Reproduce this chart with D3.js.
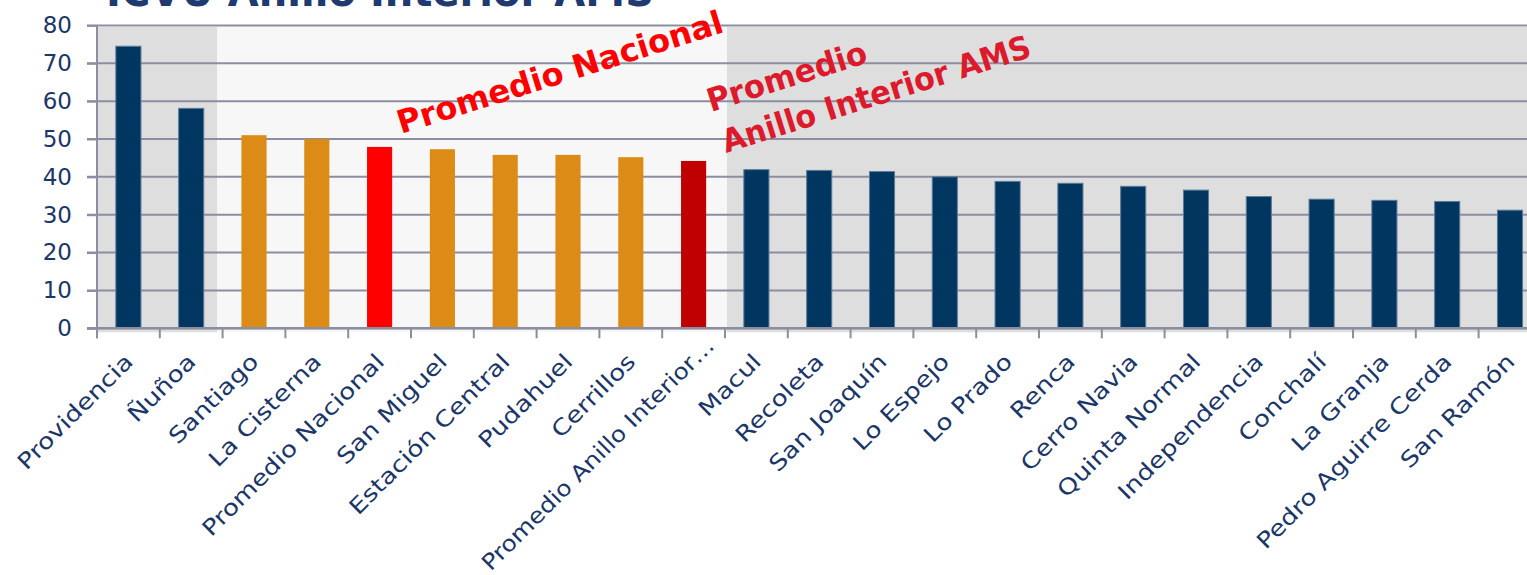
<!DOCTYPE html>
<html>
<head>
<meta charset="utf-8">
<script src="https://cdn.jsdelivr.net/npm/d3@7"></script>
<style>
  html, body { margin: 0; padding: 0; background: #ffffff; }
  svg { display: block; }
</style>
</head>
<body>
<svg id="chart" width="1527" height="575"></svg>
<script>
// ---------- data ----------
const categories = [
  "Providencia", "Ñuñoa", "Santiago", "La Cisterna", "Promedio Nacional",
  "San Miguel", "Estación Central", "Pudahuel", "Cerrillos", "Promedio Anillo Interior…",
  "Macul", "Recoleta", "San Joaquín", "Lo Espejo", "Lo Prado", "Renca",
  "Cerro Navia", "Quinta Normal", "Independencia", "Conchalí", "La Granja",
  "Pedro Aguirre Cerda", "San Ramón"
];
const values = [
  74.5, 58.1, 51.0, 50.0, 47.9, 47.3, 45.8, 45.8, 45.2, 44.2,
  41.9, 41.7, 41.4, 40.0, 38.8, 38.3, 37.5, 36.5, 34.8, 34.1, 33.8, 33.5, 31.2
];
const groups = [
  "high", "high", "mid", "mid", "nacional", "mid", "mid", "mid", "mid", "ams",
  "low", "low", "low", "low", "low", "low", "low", "low", "low", "low", "low", "low", "low"
];
const yTicks = [0, 10, 20, 30, 40, 50, 60, 70, 80];
const bandStart = [0, 2, 10];
const bandEnd = [2, 10, 23];
const bandShade = ["dark", "light", "dark"];
const title = "ICVU Anillo Interior AMS";
const noteNacional = "Promedio Nacional";
const noteAms1 = "Promedio";
const noteAms2 = "Anillo Interior AMS";

// ---------- styles ----------
const barColor = { high: "#003660", low: "#003660", mid: "#dc8c16", nacional: "#ff0000", ams: "#c00000" };
const bandColor = { dark: "#dedede", light: "#f7f7f7" };
const textNavy = "#1b3668";
const gridColor = "#8b8ea0";
const font = "'DejaVu Sans', sans-serif";

const svg = d3.select("#chart");
const left = 97, step = 62.8;
const x = d3.scaleBand().domain(categories)
  .range([left, left + step * categories.length])
  .paddingInner(0.6).paddingOuter(0.3);
const y = d3.scaleLinear().domain([0, 80]).range([328.3, 25.4]);
const boundary = i => x.range()[0] + i * x.step();
const plotRight = x.range()[1];

// background bands
const bandAdj = [[0, -5.5], [-5.5, 2], [2, 0]];
svg.append("g").selectAll("rect").data(bandStart).join("rect")
  .attr("x", (d, i) => boundary(d) + bandAdj[i][0])
  .attr("width", (d, i) => boundary(bandEnd[i]) + bandAdj[i][1] - boundary(d) - bandAdj[i][0])
  .attr("y", y(80) + 1.5)
  .attr("height", y(0) + 4 - y(80) - 1.5)
  .attr("fill", (d, i) => bandColor[bandShade[i]]);

// gridlines
svg.append("g").selectAll("line").data(yTicks).join("line")
  .attr("x1", left - 10).attr("x2", plotRight)
  .attr("y1", d => y(d)).attr("y2", d => y(d))
  .attr("stroke", gridColor).attr("stroke-width", 2);

// y axis
const yAxis = svg.append("g").attr("transform", `translate(${left},0)`)
  .call(d3.axisLeft(y).tickValues(yTicks).tickSize(10).tickPadding(15));
yAxis.select(".domain").attr("stroke", gridColor).attr("stroke-width", 2)
  .attr("d", `M0,${y(80)}V${y(0) + 10}`);
yAxis.selectAll(".tick line").attr("stroke", gridColor).attr("stroke-width", 2);
yAxis.selectAll(".tick text").attr("fill", textNavy)
  .style("font-family", font).style("font-size", "23px");

// x axis ticks at category boundaries
svg.append("g").selectAll("line").data(d3.range(categories.length + 1)).join("line")
  .attr("x1", d => boundary(d)).attr("x2", d => boundary(d))
  .attr("y1", y(0)).attr("y2", y(0) + 10)
  .attr("stroke", gridColor).attr("stroke-width", 2);

// bars
svg.append("g").selectAll("rect").data(categories).join("rect")
  .attr("x", d => x(d))
  .attr("width", x.bandwidth())
  .attr("y", (d, i) => y(values[i]))
  .attr("height", (d, i) => y(0) - y(values[i]))
  .attr("fill", (d, i) => barColor[groups[i]])
  .attr("stroke", (d, i) => (groups[i] === "high" || groups[i] === "low") ? "#5d7c99" : "none")
  .attr("stroke-width", 1);

// x axis line on top of bars
svg.append("line")
  .attr("x1", left - 10).attr("x2", plotRight)
  .attr("y1", y(0)).attr("y2", y(0))
  .attr("stroke", gridColor).attr("stroke-width", 2.5);

// category labels (truncated label sits a little higher, as in the original)
const labels = svg.append("g").selectAll("text").data(categories).join("text")
  .attr("transform", d => {
    const shift = d.endsWith("…") ? 16 : 0;
    return `translate(${x(d) + x.bandwidth() / 2 + 6 + shift},${363 - shift}) rotate(-45)`;
  })
  .attr("text-anchor", "end")
  .attr("fill", textNavy)
  .style("font-family", font).style("font-size", "22px")
  .text(d => d);
labels.each(function (d) {
  const len = this.getComputedTextLength();
  const target = d.endsWith("…") ? Math.min(len * 1.2, 318) : len * 1.2;
  d3.select(this).attr("textLength", target).attr("lengthAdjust", "spacingAndGlyphs");
});

// title (mostly cut off at top)
svg.append("text")
  .attr("x", 106).attr("y", 6)
  .attr("textLength", 548).attr("lengthAdjust", "spacingAndGlyphs")
  .attr("fill", "#1f3a70")
  .style("font-family", font).style("font-weight", "bold").style("font-size", "42px")
  .text(title);

// annotations
function note(txt, px, py, len, color) {
  svg.append("text")
    .attr("transform", `translate(${px},${py}) rotate(-17.5)`)
    .attr("textLength", len).attr("lengthAdjust", "spacingAndGlyphs")
    .attr("fill", color)
    .style("font-family", font).style("font-weight", "bold").style("font-size", "32px")
    .text(txt);
}
note(noteNacional, 401, 134, 340, "#ff0000");
note(noteAms1, 711, 112, 166, "#dd1a2c");
note(noteAms2, 726, 153, 322, "#dd1a2c");
</script>
</body>
</html>
